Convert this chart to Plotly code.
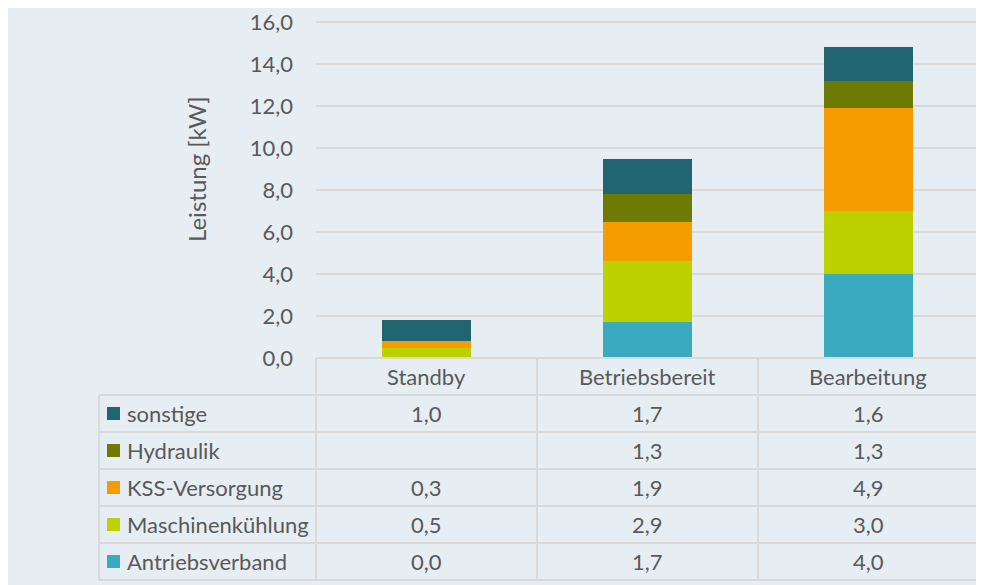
import plotly.graph_objects as go

categories = ["Standby", "Betriebsbereit", "Bearbeitung"]

# series from bottom to top of the stack
series_names = ["Antriebsverband", "Maschinenkühlung", "KSS-Versorgung", "Hydraulik", "sonstige"]
antriebsverband = [0.0, 1.7, 4.0]
maschinenkuehlung = [0.5, 2.9, 3.0]
kss_versorgung = [0.3, 1.9, 4.9]
hydraulik = [None, 1.3, 1.3]
sonstige = [1.0, 1.7, 1.6]
series_values = [antriebsverband, maschinenkuehlung, kss_versorgung, hydraulik, sonstige]
series_colors = ["#3aabbf", "#bdd000", "#f59d00", "#6f7a00", "#216570"]

y_ticks = [0, 2, 4, 6, 8, 10, 12, 14, 16]

# page body has an 8px margin, so the figure is a bit smaller than the window
OFF = 8
W, H = 984 - OFF, 585 - OFF
BG = "#e6eef4"
GRID = "#d9d9d9"
TXT = "#595959"
FONT = "Lato, Noto Sans, sans-serif"
FS = 22

# pixel geometry of the chart (window coordinates); 16 sits at y=22, 0 at y=358
Y_TOP = 16.2
plot_l, plot_r, plot_b = 316, 979, 358
plot_t = plot_b - (plot_b - 22) * Y_TOP / 16
col_x = [316, 537, 758, 978]
tab_l = 99
row_h = 37
tab_top = plot_b


def px(x):
    return (x - OFF) / W


def py(y):
    return 1 - (y - OFF) / H


fig = go.Figure()
for name, vals, color in zip(series_names, series_values, series_colors):
    fig.add_trace(go.Bar(x=categories, y=vals, name=name, marker_color=color,
                         marker_line_width=0, showlegend=False))

shapes = []
annotations = []

# chart area background with border
shapes.append(dict(type="rect", xref="paper", yref="paper", x0=px(7), x1=px(990),
                   y0=py(595), y1=py(7), fillcolor=BG, line=dict(color="#d9d9d9", width=2),
                   layer="below"))

line = dict(color=GRID, width=2)
# table horizontal lines
shapes.append(dict(type="line", xref="paper", yref="paper", x0=px(col_x[0]), x1=px(col_x[-1]),
                   y0=py(tab_top), y1=py(tab_top), line=line))
for i in range(1, 7):
    y = tab_top + row_h * i
    shapes.append(dict(type="line", xref="paper", yref="paper", x0=px(tab_l), x1=px(col_x[-1]),
                       y0=py(y), y1=py(y), line=line))
# table vertical lines
for x in col_x:
    shapes.append(dict(type="line", xref="paper", yref="paper", x0=px(x), x1=px(x),
                       y0=py(tab_top), y1=py(tab_top + row_h * 6), line=line))
shapes.append(dict(type="line", xref="paper", yref="paper", x0=px(tab_l), x1=px(tab_l),
                   y0=py(tab_top + row_h), y1=py(tab_top + row_h * 6), line=line))

cell_font = dict(size=FS, color=TXT, family=FONT)

# header row
for i, cat in enumerate(categories):
    annotations.append(dict(xref="paper", yref="paper", x=px((col_x[i] + col_x[i + 1]) / 2),
                            y=py(tab_top + row_h / 2), text=cat, showarrow=False,
                            xanchor="center", yanchor="middle", font=cell_font))

# data rows, top row is last series
for r, idx in enumerate(reversed(range(len(series_names)))):
    yc = tab_top + row_h * (r + 1) + row_h / 2
    shapes.append(dict(type="rect", xref="paper", yref="paper", x0=px(107), x1=px(120),
                       y0=py(yc + 6.5), y1=py(yc - 6.5), fillcolor=series_colors[idx],
                       line=dict(width=0)))
    annotations.append(dict(xref="paper", yref="paper", x=px(125), y=py(yc), xanchor="left",
                            yanchor="middle", text=series_names[idx], showarrow=False,
                            font=cell_font))
    for i, v in enumerate(series_values[idx]):
        if v is None:
            continue
        annotations.append(dict(xref="paper", yref="paper", x=px((col_x[i] + col_x[i + 1]) / 2),
                                y=py(yc), text=f"{v:.1f}".replace(".", ","), showarrow=False,
                                xanchor="center", yanchor="middle", font=cell_font))

# y axis title
annotations.append(dict(xref="paper", yref="paper", x=px(196), y=py(169), text="Leistung [kW]",
                        textangle=-90, showarrow=False, xanchor="center", yanchor="middle",
                        font=dict(size=24, color=TXT, family=FONT)))

fig.update_layout(
    width=W, height=H,
    margin=dict(l=0, r=0, t=0, b=0, autoexpand=False),
    paper_bgcolor="white",
    plot_bgcolor="rgba(0,0,0,0)",
    barmode="stack",
    bargap=0.6,
    separators=",.",
    font=dict(family=FONT, color=TXT, size=FS),
    shapes=shapes,
    annotations=annotations,
    xaxis=dict(domain=[px(plot_l), px(plot_r)], range=[-0.5, 2.5], showticklabels=False,
               showgrid=False, zeroline=False, showline=False, automargin=False),
    yaxis=dict(domain=[py(plot_b), py(plot_t)], range=[0, Y_TOP], tickvals=y_ticks,
               tickformat=".1f", showgrid=True, gridcolor=GRID, gridwidth=2,
               zeroline=False, showline=False, ticklabelstandoff=22, automargin=False,
               ticklabeloverflow="allow", tickfont=cell_font),
)

fig.write_html("out.html")
